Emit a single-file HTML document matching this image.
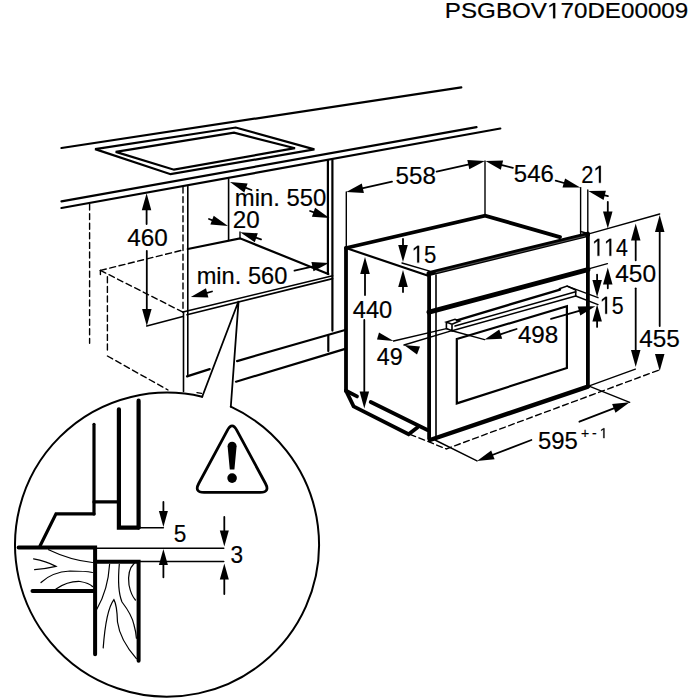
<!DOCTYPE html>
<html><head><meta charset="utf-8"><style>
html,body{margin:0;padding:0;background:#fff;}
svg{display:block;}
text{font-family:"Liberation Sans",sans-serif;fill:#000;stroke:#000;stroke-width:0.2px;font-kerning:none;}
.h{fill-opacity:0;stroke-opacity:0;}
</style></head><body>
<svg width="700" height="700" viewBox="0 0 700 700">
<g stroke="#000" fill="none" stroke-linecap="round" stroke-linejoin="miter">
<text x="444.80" y="18.2" font-size="22" textLength="243.5" lengthAdjust="spacingAndGlyphs" text-anchor="start">PSGBOV<tspan class="h">1</tspan>70DE00009</text>
<line x1="61.5" y1="148" x2="461.3" y2="87.3" stroke-width="2.2"/>
<line x1="61.5" y1="201.3" x2="476.5" y2="127.2" stroke-width="2.2"/>
<line x1="61.5" y1="208" x2="500.3" y2="128.5" stroke-width="2.2"/>
<polygon points="95.1,149.1 235.7,127.5 314.4,149.4 170.6,174.2" stroke-width="2.2" fill="none"/>
<polygon points="115.7,151.9 234,132.7 295,148.2 174,169.7" stroke-width="2.2" fill="none"/>
<line x1="89.6" y1="204" x2="89.6" y2="343.2" stroke-width="1.4" stroke-dasharray="6,3.6"/>
<line x1="183" y1="187" x2="183" y2="312.1" stroke-width="1.4" stroke-dasharray="6,3.6"/>
<line x1="100.4" y1="270.4" x2="100.4" y2="274.6" stroke-width="1.4"/>
<line x1="107.4" y1="276.8" x2="107.4" y2="352.9" stroke-width="1.4" stroke-dasharray="6,3.6"/>
<line x1="100.4" y1="270.4" x2="182.9" y2="250" stroke-width="1.4" stroke-dasharray="6,3.6"/>
<line x1="100.4" y1="270.4" x2="182.9" y2="312.1" stroke-width="1.4" stroke-dasharray="6,3.6"/>
<line x1="107.4" y1="356" x2="168" y2="390" stroke-width="1.4" stroke-dasharray="6,3.6"/>
<line x1="197" y1="392.6" x2="201.5" y2="393.4" stroke-width="1.4"/>
<line x1="187.8" y1="186.4" x2="187.8" y2="376.4" stroke-width="1.5999999999999999"/>
<line x1="183.5" y1="312" x2="183.5" y2="391.4" stroke-width="1.5999999999999999"/>
<line x1="228.6" y1="179" x2="228.6" y2="240.5" stroke-width="1.5999999999999999"/>
<line x1="240" y1="232" x2="240" y2="238" stroke-width="1.4"/>
<line x1="327.9" y1="160.1" x2="327.9" y2="274" stroke-width="2.2"/>
<line x1="332.4" y1="160.1" x2="332.4" y2="330.6" stroke-width="2.2"/>
<line x1="328.3" y1="335.7" x2="328.3" y2="351.1" stroke-width="2.2"/>
<polyline points="187.8,249 240,238.3 328.3,274" stroke-width="2.2" fill="none"/>
<line x1="182.9" y1="312" x2="332.6" y2="275.7" stroke-width="1.5999999999999999"/>
<line x1="187" y1="314.8" x2="332.6" y2="278.6" stroke-width="1.5999999999999999"/>
<line x1="146.8" y1="326" x2="182.9" y2="316.4" stroke-width="1.5999999999999999"/>
<line x1="187" y1="376.4" x2="209.7" y2="369.1" stroke-width="2.2"/>
<line x1="237.1" y1="361.1" x2="346" y2="329.7" stroke-width="2.2"/>
<line x1="236" y1="381.7" x2="346" y2="348.6" stroke-width="2.2"/>
<line x1="146.6" y1="224.0" x2="146.6" y2="208.2" stroke-width="1.8"/>
<polygon points="146.6,193.2 151.3,210.2 141.8,210.2" fill="#000" stroke="none"/>
<line x1="146.8" y1="251.0" x2="146.8" y2="311.0" stroke-width="1.8"/>
<polygon points="146.8,326.0 142.1,309.0 151.6,309.0" fill="#000" stroke="none"/>
<text x="127.30" y="246.29999999999998" font-size="24.5" textLength="40.5" lengthAdjust="spacingAndGlyphs" text-anchor="start">460</text>
<line x1="251.5" y1="190.0" x2="244.1" y2="187.2" stroke-width="1.8"/>
<polygon points="230.0,182.0 247.6,183.5 244.3,192.4" fill="#000" stroke="none"/>
<line x1="310.1" y1="211.0" x2="315.4" y2="212.9" stroke-width="1.8"/>
<polygon points="329.5,218.0 311.9,216.7 315.1,207.8" fill="#000" stroke="none"/>
<text x="234.80" y="205.6" font-size="24.5" textLength="91.5" lengthAdjust="spacingAndGlyphs" text-anchor="start">min. 550</text>
<line x1="209.0" y1="219.0" x2="213.9" y2="220.8" stroke-width="1.8"/>
<polygon points="228.0,226.0 210.4,224.6 213.7,215.7" fill="#000" stroke="none"/>
<text x="232.80" y="228.1" font-size="24.5" textLength="26.9" lengthAdjust="spacingAndGlyphs" text-anchor="start">20</text>
<line x1="261.0" y1="239.4" x2="254.4" y2="237.1" stroke-width="1.8"/>
<polygon points="240.2,232.3 257.8,233.3 254.8,242.3" fill="#000" stroke="none"/>
<text x="196.70" y="284.40000000000003" font-size="24.5" textLength="90.6" lengthAdjust="spacingAndGlyphs" text-anchor="start">min. 560</text>
<line x1="294.5" y1="270.7" x2="314.4" y2="266.2" stroke-width="1.8"/>
<polygon points="329.0,262.9 313.5,271.3 311.4,262.0" fill="#000" stroke="none"/>
<line x1="212.0" y1="291.5" x2="205.3" y2="293.3" stroke-width="1.8"/>
<polygon points="190.8,297.1 206.0,288.2 208.4,297.4" fill="#000" stroke="none"/>
<polyline points="202.2,396.8 238.6,301 230.8,406.7" stroke-width="1.8" fill="none"/>
<path d="M 230.8 406.7 A 152 152 0 1 1 202.2 396.8" stroke-width="2"/>
<line x1="346" y1="248" x2="346" y2="391" stroke-width="3.8"/>
<polyline points="346,248 485.1,215.7 560,237.1" stroke-width="3.8" fill="none"/>
<line x1="346" y1="248" x2="429.7" y2="276.3" stroke-width="2.2"/>
<line x1="402" y1="263" x2="429.7" y2="271.1" stroke-width="1.4"/>
<line x1="346.3" y1="191.9" x2="346.3" y2="247.5" stroke-width="1.4"/>
<line x1="485" y1="161" x2="485" y2="215.5" stroke-width="1.4"/>
<line x1="392.0" y1="181.6" x2="360.9" y2="188.7" stroke-width="1.8"/>
<polygon points="346.3,192.0 361.8,183.6 363.9,192.9" fill="#000" stroke="none"/>
<line x1="436.6" y1="171.6" x2="470.2" y2="164.2" stroke-width="1.8"/>
<polygon points="484.9,161.0 469.3,169.3 467.3,160.0" fill="#000" stroke="none"/>
<text x="395.50" y="183.9" font-size="24.5" textLength="40.4" lengthAdjust="spacingAndGlyphs" text-anchor="start">558</text>
<line x1="512.9" y1="167.9" x2="500.0" y2="164.7" stroke-width="1.8"/>
<polygon points="485.5,161.0 503.1,160.5 500.8,169.8" fill="#000" stroke="none"/>
<line x1="555.7" y1="180.7" x2="565.8" y2="183.5" stroke-width="1.8"/>
<polygon points="580.2,187.6 562.5,187.6 565.1,178.4" fill="#000" stroke="none"/>
<text x="513.80" y="182.2" font-size="24.5" textLength="40.0" lengthAdjust="spacingAndGlyphs" text-anchor="start">546</text>
<line x1="580.6" y1="187.6" x2="580.6" y2="233.5" stroke-width="1.4"/>
<line x1="587.8" y1="190" x2="587.8" y2="233.5" stroke-width="1.4"/>
<text x="581.20" y="182.7" font-size="24.5" textLength="24.4" lengthAdjust="spacingAndGlyphs" text-anchor="start">2<tspan class="h">1</tspan></text>
<line x1="608.0" y1="196.1" x2="602.8" y2="194.8" stroke-width="1.8"/>
<polygon points="588.3,191.0 605.9,190.7 603.6,199.9" fill="#000" stroke="none"/>
<line x1="607.8" y1="202.0" x2="607.8" y2="213.6" stroke-width="1.8"/>
<polygon points="607.8,228.6 603.0,211.6 612.5,211.6" fill="#000" stroke="none"/>
<line x1="588" y1="234.2" x2="659.7" y2="214" stroke-width="1.4"/>
<text x="592.10" y="255.7" font-size="24.5" textLength="35.7" lengthAdjust="spacingAndGlyphs" text-anchor="start"><tspan class="h">1</tspan><tspan class="h">1</tspan>4</text>
<line x1="635.7" y1="260.3" x2="635.7" y2="238.4" stroke-width="1.8"/>
<polygon points="635.7,223.4 640.5,240.4 631.0,240.4" fill="#000" stroke="none"/>
<line x1="635.7" y1="288.3" x2="635.7" y2="352.1" stroke-width="1.8"/>
<polygon points="635.7,367.1 631.0,350.1 640.5,350.1" fill="#000" stroke="none"/>
<text x="615.20" y="282.3" font-size="24.5" textLength="40.9" lengthAdjust="spacingAndGlyphs" text-anchor="start">450</text>
<line x1="659.7" y1="326.0" x2="659.7" y2="229.9" stroke-width="1.8"/>
<polygon points="659.7,214.9 664.5,231.9 655.0,231.9" fill="#000" stroke="none"/>
<polygon points="659.7,371.0 655.0,354.0 664.5,354.0" fill="#000" stroke="none"/>
<text x="639.20" y="346.8" font-size="24.5" textLength="40.6" lengthAdjust="spacingAndGlyphs" text-anchor="start">455</text>
<line x1="588.6" y1="268.9" x2="607.4" y2="263.6" stroke-width="1.4"/>
<line x1="597.1" y1="274.6" x2="597.1" y2="281.9" stroke-width="1.8"/>
<polygon points="597.1,296.9 592.4,279.9 601.9,279.9" fill="#000" stroke="none"/>
<line x1="607.8" y1="288.3" x2="607.8" y2="282.5" stroke-width="1.8"/>
<polygon points="607.8,267.5 612.5,284.5 603.0,284.5" fill="#000" stroke="none"/>
<line x1="597.1" y1="326.9" x2="597.1" y2="319.6" stroke-width="1.8"/>
<polygon points="597.1,304.6 601.9,321.6 592.4,321.6" fill="#000" stroke="none"/>
<text x="599.80" y="313.70000000000005" font-size="24.5" textLength="23.8" lengthAdjust="spacingAndGlyphs" text-anchor="start"><tspan class="h">1</tspan>5</text>
<line x1="403.0" y1="239.0" x2="403.0" y2="247.0" stroke-width="1.8"/>
<polygon points="403.0,262.0 398.2,245.0 407.8,245.0" fill="#000" stroke="none"/>
<line x1="403.0" y1="292.0" x2="403.0" y2="285.0" stroke-width="1.8"/>
<polygon points="403.0,270.0 407.8,287.0 398.2,287.0" fill="#000" stroke="none"/>
<text x="411.60" y="262.6" font-size="24.5" textLength="24.7" lengthAdjust="spacingAndGlyphs" text-anchor="start"><tspan class="h">1</tspan>5</text>
<line x1="365.0" y1="295.0" x2="365.0" y2="272.0" stroke-width="1.8"/>
<polygon points="365.0,257.0 369.8,274.0 360.2,274.0" fill="#000" stroke="none"/>
<line x1="364.3" y1="320.0" x2="364.3" y2="393.6" stroke-width="1.8"/>
<polygon points="364.3,408.6 359.6,391.6 369.1,391.6" fill="#000" stroke="none"/>
<text x="352.80" y="317.6" font-size="24.5" textLength="39.5" lengthAdjust="spacingAndGlyphs" text-anchor="start">440</text>
<line x1="429" y1="273.6" x2="587.5" y2="234.6" stroke-width="5"/>
<line x1="436" y1="272.6" x2="585" y2="236.1" stroke="#777" stroke-width="0.7"/>
<line x1="429.1" y1="272.9" x2="429.1" y2="438.6" stroke-width="3.8"/>
<line x1="436" y1="275" x2="436" y2="438.6" stroke-width="1.5999999999999999"/>
<line x1="587.9" y1="233.5" x2="587.9" y2="386.3" stroke-width="3.8"/>
<line x1="580.6" y1="231.5" x2="587.9" y2="233.5" stroke-width="1.4"/>
<line x1="429" y1="312.2" x2="587.9" y2="269.6" stroke-width="5"/>
<line x1="430" y1="440" x2="587.9" y2="386.6" stroke-width="4.4"/>
<polygon points="456.8,339 566.9,306.3 566.9,368 456.8,403.4" stroke-width="2.2" fill="none"/>
<polyline points="446.4,322.1 446.4,328.6 452,330.7 452,324.3 446.4,322.1 455,319.3 459.5,321 452,324.3" stroke-width="1.5999999999999999" fill="none"/>
<line x1="457" y1="320.3" x2="560" y2="289.6" stroke-width="2.4"/>
<line x1="455" y1="326" x2="575.7" y2="291.8" stroke-width="1.5"/>
<line x1="452" y1="330.7" x2="575.7" y2="296" stroke-width="1.5"/>
<polyline points="559.4,288.7 567.1,286.1 575.7,290 575.7,296" stroke-width="1.5999999999999999" fill="none"/>
<line x1="567.1" y1="286.1" x2="598" y2="297.7" stroke-width="1.4"/>
<line x1="575.7" y1="296" x2="598" y2="304.6" stroke-width="1.4"/>
<line x1="393.6" y1="341" x2="446.4" y2="328.6" stroke-width="1.4"/>
<line x1="404" y1="345" x2="452" y2="330.7" stroke-width="1.4"/>
<line x1="452" y1="330.7" x2="484.6" y2="339.6" stroke-width="1.4"/>
<line x1="516.6" y1="329.0" x2="498.9" y2="334.8" stroke-width="1.8"/>
<polygon points="484.6,339.4 499.3,329.6 502.2,338.7" fill="#000" stroke="none"/>
<line x1="551.0" y1="318.9" x2="581.0" y2="310.4" stroke-width="1.8"/>
<polygon points="595.4,306.3 580.3,315.5 577.7,306.4" fill="#000" stroke="none"/>
<text x="517.90" y="343.20000000000005" font-size="24.5" textLength="40.4" lengthAdjust="spacingAndGlyphs" text-anchor="start">498</text>
<text x="376.80" y="364.6" font-size="24.5" textLength="25.9" lengthAdjust="spacingAndGlyphs" text-anchor="start">49</text>
<polygon points="393.6,341 379,332.5 377,339.5" fill="#000" stroke="none"/>
<polygon points="404,345 420,346.5 417,354.5" fill="#000" stroke="none"/>
<polyline points="346,390.7 353.6,406.4 408.6,434.3 417.4,427.4" stroke-width="3.8" fill="none"/>
<line x1="346" y1="390.7" x2="357" y2="396.4" stroke-width="3.8"/>
<line x1="370.7" y1="402" x2="427.4" y2="430" stroke-width="3.8"/>
<polyline points="410,434.3 446.3,448.9 658.3,370.3" stroke-width="1.4" fill="none" stroke-dasharray="6,3.6"/>
<line x1="587.9" y1="386.3" x2="635.4" y2="369.1" stroke-width="1.4"/>
<line x1="589.7" y1="386.3" x2="629.7" y2="402.3" stroke-width="1.4"/>
<line x1="435" y1="440" x2="477" y2="460.9" stroke-width="1.4"/>
<line x1="531.4" y1="440.0" x2="491.0" y2="455.5" stroke-width="1.8"/>
<polygon points="477.0,460.9 491.2,450.4 494.6,459.2" fill="#000" stroke="none"/>
<line x1="579.4" y1="421.7" x2="615.7" y2="407.7" stroke-width="1.8"/>
<polygon points="629.7,402.3 615.5,412.8 612.1,404.0" fill="#000" stroke="none"/>
<text x="537.90" y="448.6" font-size="24.5" textLength="39.9" lengthAdjust="spacingAndGlyphs" text-anchor="start">595</text>
<text x="580.90" y="437.9" font-size="14" text-anchor="start">+</text>
<text x="592.10" y="437.9" font-size="14" text-anchor="start">-</text>
<text x="599.75" y="437.9" font-size="14" text-anchor="start"><tspan class="h">1</tspan></text>
<polyline points="118.9,409.3 118.9,527.6 138.6,527.6" stroke-width="4.2" fill="none"/>
<line x1="138.6" y1="400.7" x2="138.6" y2="527.6" stroke-width="4.2"/>
<polyline points="94,424.3 94,513.9" stroke-width="3.2" fill="none"/>
<line x1="94" y1="501.9" x2="118.9" y2="501.9" stroke-width="3.2"/>
<polyline points="94,513.9 56,513.9 40,546" stroke-width="3.2" fill="none"/>
<polyline points="18.6,547.6 95.1,547.6 95.1,654.3" stroke-width="4.0" fill="none"/>
<polyline points="95.1,561.7 138.6,561.7 138.6,660.7" stroke-width="4.0" fill="none"/>
<line x1="32.5" y1="591.1" x2="94.6" y2="591.1" stroke-width="4.0"/>
<line x1="95.1" y1="548.3" x2="223.8" y2="548.3" stroke-width="1.4"/>
<line x1="138.6" y1="561.5" x2="223.8" y2="561.5" stroke-width="1.4"/>
<line x1="138.4" y1="527.7" x2="163.4" y2="527.7" stroke-width="1.4"/>
<line x1="163.4" y1="502.0" x2="163.4" y2="513.1" stroke-width="1.8"/>
<polygon points="163.4,527.1 158.9,511.1 167.9,511.1" fill="#000" stroke="none"/>
<line x1="163.4" y1="577.3" x2="163.4" y2="563.0" stroke-width="1.8"/>
<polygon points="163.4,549.0 167.9,565.0 158.9,565.0" fill="#000" stroke="none"/>
<text x="173.80" y="542.4" font-size="24.5" textLength="12.6" lengthAdjust="spacingAndGlyphs" text-anchor="start">5</text>
<line x1="224.3" y1="516.9" x2="224.3" y2="532.6" stroke-width="1.8"/>
<polygon points="224.3,546.6 219.8,530.6 228.8,530.6" fill="#000" stroke="none"/>
<line x1="224.3" y1="594.0" x2="224.3" y2="577.4" stroke-width="1.8"/>
<polygon points="224.3,563.4 228.8,579.4 219.8,579.4" fill="#000" stroke="none"/>
<text x="230.60" y="563.3000000000001" font-size="24.5" textLength="12.6" lengthAdjust="spacingAndGlyphs" text-anchor="start">3</text>
<path d="M48.6,549.7 Q70,560 92.5,562.5" stroke-width="1.2"/>
<path d="M33.6,558.9 Q46,561 56,566.4 Q45,569 34.6,569.6" stroke-width="1.2"/>
<path d="M41,582.5 Q52,572 70,571 Q85,571 92.5,572.5" stroke-width="1.2"/>
<path d="M56,589 Q68,581 80,581.5 Q89,583 92.5,586.5" stroke-width="1.2"/>
<path d="M109.6,564.3 Q108,590 96.8,609.3" stroke-width="1.2"/>
<path d="M119.3,564.3 Q117,590 122,602 Q132,615 134,625 Q136,632 136.4,638.2" stroke-width="1.2"/>
<path d="M134.3,563.2 Q127,570 129,585 Q131,595 135.4,600" stroke-width="1.2"/>
<path d="M103.2,647.9 Q106,610 113.9,599.6 Q117,605 117.5,622 Q120,640 136.4,658.6" stroke-width="1.2"/>
<path d="M236.84,430.31 Q232.1,421.5 227.36,430.31 L198.74,483.49 Q194,492.3 204.00,492.30 L260.20,492.30 Q270.2,492.3 265.46,483.49 Z" stroke-width="2.8" stroke-linejoin="round"/>
<path d="M227.6,446.2 A4.5,4.5 0 0 1 236.6,446.2 L234.4,469.6 L229.8,469.6 Z" fill="#000" stroke="none"/>
<circle cx="232.1" cy="478.1" r="4.8" fill="#000" stroke="none"/>
<path d="M515,0 L515,1237 L197,1010 L197,1180 L530,1409 L696,1409 L696,0 Z" transform="translate(547.00,18.2) scale(0.01183,-0.01074)" fill="#000" stroke="#000" stroke-width="18.6"/>
<path d="M515,0 L515,1237 L197,1010 L197,1180 L530,1409 L696,1409 L696,0 Z" transform="translate(593.40,182.7) scale(0.01071,-0.01196)" fill="#000" stroke="#000" stroke-width="16.7"/>
<path d="M515,0 L515,1237 L197,1010 L197,1180 L530,1409 L696,1409 L696,0 Z" transform="translate(592.10,255.7) scale(0.01045,-0.01196)" fill="#000" stroke="#000" stroke-width="16.7"/>
<path d="M515,0 L515,1237 L197,1010 L197,1180 L530,1409 L696,1409 L696,0 Z" transform="translate(604.00,255.7) scale(0.01045,-0.01196)" fill="#000" stroke="#000" stroke-width="16.7"/>
<path d="M515,0 L515,1237 L197,1010 L197,1180 L530,1409 L696,1409 L696,0 Z" transform="translate(599.80,313.70000000000005) scale(0.01045,-0.01196)" fill="#000" stroke="#000" stroke-width="16.7"/>
<path d="M515,0 L515,1237 L197,1010 L197,1180 L530,1409 L696,1409 L696,0 Z" transform="translate(411.60,262.6) scale(0.01084,-0.01196)" fill="#000" stroke="#000" stroke-width="16.7"/>
<path d="M515,0 L515,1237 L197,1010 L197,1180 L530,1409 L696,1409 L696,0 Z" transform="translate(599.75,437.9) scale(0.00685,-0.00684)" fill="#000" stroke="#000" stroke-width="29.3"/>
</g></svg></body></html>
